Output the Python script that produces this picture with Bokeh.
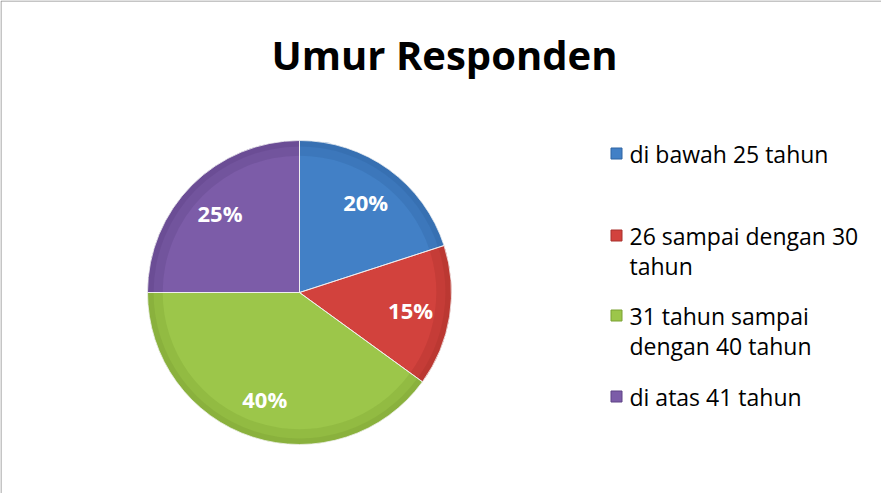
import math
from bokeh.plotting import figure
from bokeh.models import ColumnDataSource, Range1d
from bokeh.core.properties import value
from bokeh.embed import file_html
from bokeh.resources import INLINE

# ---- data ----
title_text = "Umur Responden"
categories = ["di bawah 25 tahun", "26 sampai dengan 30\ntahun",
              "31 tahun sampai\ndengan 40 tahun", "di atas 41 tahun"]
percents = [20, 15, 40, 25]
colors = ["#4280c6", "#d2423d", "#9cc64a", "#7c5ca8"]
dark_colors = ["#2f64a3", "#a8302c", "#7ba133", "#5e4386"]

W, H = 881, 493
p = figure(width=W, height=H, output_backend="svg", toolbar_location=None,
           x_range=Range1d(0, W), y_range=Range1d(0, H), min_border=0)
p.axis.visible = False
p.grid.visible = False
p.outline_line_color = None
p.background_fill_color = "white"
p.border_fill_color = "white"

# chart border (left and top visible)
p.line(x=[0.5, 0.5], y=[0, H - 0.5], line_color="#8c8c8c", line_width=1)
p.line(x=[0.5, W], y=[H - 0.5, H - 0.5], line_color="#8c8c8c", line_width=1)

# ---- pie ----
cx, cy, R = 299, 201, 152
total = float(sum(percents))
starts, ends, mids = [], [], []
cum = 0.0
for v in percents:
    a0 = math.pi / 2 - 2 * math.pi * (cum + v) / total
    a1 = math.pi / 2 - 2 * math.pi * cum / total
    starts.append(a0)
    ends.append(a1)
    mids.append((a0 + a1) / 2)
    cum += v

src = ColumnDataSource(dict(start=starts, end=ends, color=colors, dark=dark_colors))
p.wedge(x=cx, y=cy, radius=R, start_angle="start", end_angle="end",
        fill_color="color", line_color=None, source=src)
# darker rim for bevel look
p.annular_wedge(x=cx, y=cy, inner_radius=R * 0.9, outer_radius=R,
                start_angle="start", end_angle="end", fill_color="dark",
                fill_alpha=0.3, line_color=None, source=src)
p.annular_wedge(x=cx, y=cy, inner_radius=R * 0.96, outer_radius=R,
                start_angle="start", end_angle="end", fill_color="dark",
                fill_alpha=0.35, line_color=None, source=src)
p.wedge(x=cx, y=cy, radius=R, start_angle="start", end_angle="end",
        fill_color=None, line_color="#f2f2f2", line_width=1, line_alpha=0.8, source=src)

lr = R * 0.74
lab = ColumnDataSource(dict(
    x=[cx + lr * math.cos(m) for m in mids],
    y=[cy + lr * math.sin(m) for m in mids],
    t=["%d%%" % v for v in percents]))
p.text(x="x", y="y", text="t", source=lab, text_color="white",
       text_font=value("Open Sans"), text_font_style="bold", text_font_size="22px",
       text_align="center", text_baseline="middle")

# ---- title ----
p.text(x=[444], y=[H - 54], text=[title_text], text_font=value("Open Sans"),
       text_font_style="bold", text_font_size="40px", text_color="black",
       text_align="center", text_baseline="middle")

# ---- legend ----
leg_y = [H - 153, H - 235, H - 315, H - 396]
sq = ColumnDataSource(dict(x=[616] * 4, y=leg_y, color=colors, dark=dark_colors))
p.rect(x="x", y="y", width=11, height=11, fill_color="color", line_color="dark",
       line_width=1, source=sq)
lines_x, lines_y, lines_t = [], [], []
for yy, c in zip(leg_y, categories):
    for k, part in enumerate(c.split("\n")):
        lines_x.append(629)
        lines_y.append(yy - 30 * k)
        lines_t.append(part)
p.text(x=lines_x, y=lines_y, text=lines_t, text_font=value("Open Sans"),
       text_font_size="23px", text_color="black", text_align="left",
       text_baseline="middle")

open("out.html", "w").write(file_html(p, INLINE))
